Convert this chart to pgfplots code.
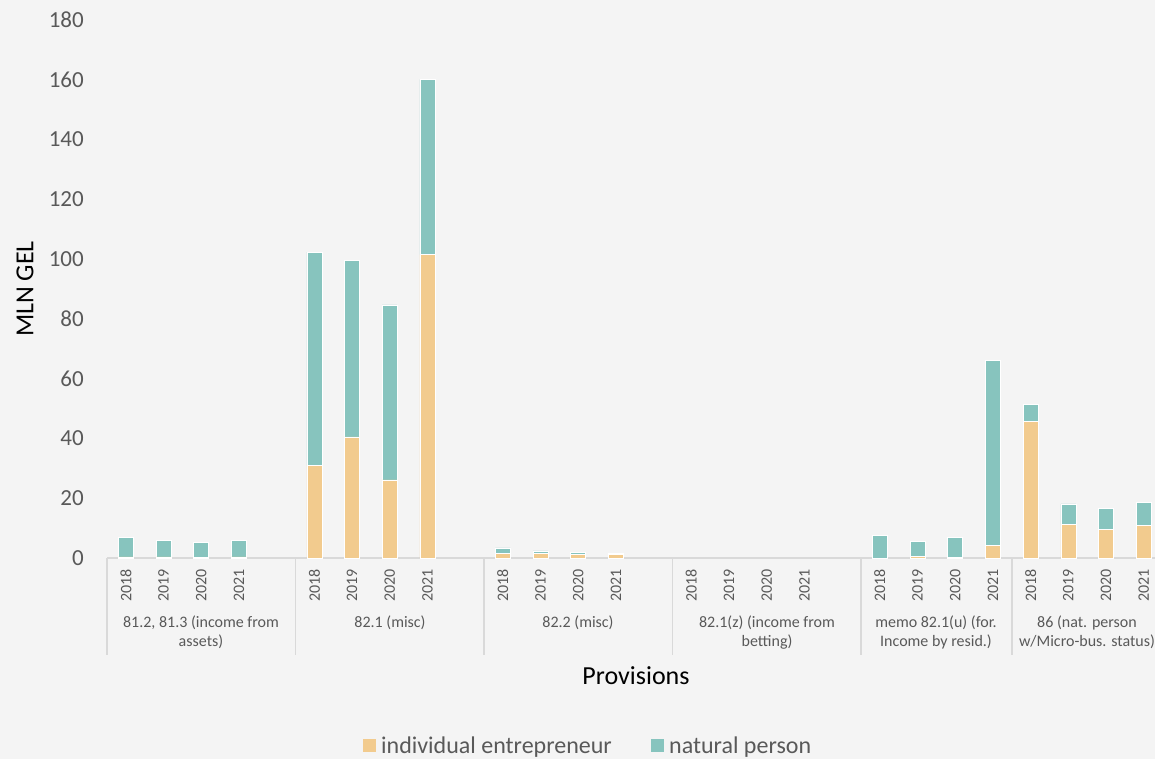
\documentclass[border=0pt]{standalone}
\usepackage{pgfplots}
\pgfplotsset{compat=1.18}
\usepackage{fontspec}
\setmainfont{Carlito}
\definecolor{ie}{HTML}{F2CB8E}
\definecolor{np}{HTML}{87C4BE}
\definecolor{bg}{HTML}{F4F4F4}
\definecolor{txt}{HTML}{595959}
\definecolor{axc}{HTML}{D9D9D9}

\pgfplotstableread{
x ie np
0 0.4 6.6
1 0.4 5.6
2 0.1 5.1
3 0.4 5.6
5 31.1 71.2
6 40.5 59.0
7 26.1 58.6
8 101.5 58.6
10 1.5 1.9
11 1.5 0.9
12 1.1 0.9
13 1.1 0.5
20 0.0 7.6
21 0.5 5.1
22 0.3 6.5
23 4.1 62.0
24 45.6 5.8
25 11.3 6.8
26 9.6 7.0
27 10.9 7.7
}\datatable

\begin{document}
\begin{tikzpicture}[x=1pt,y=1pt]
\fill[bg] (0,0) rectangle (1155,759);
\path[use as bounding box] (0,0) rectangle (1155,759);
\begin{axis}[
  at={(107pt,201pt)}, anchor=south west,
  scale only axis, width=1048pt, height=538pt,
  xmin=-0.5, xmax=27.3, ymin=0, ymax=180,
  ybar stacked, bar width=15pt,
  clip=false,
  axis x line=bottom, axis y line=left,
  x axis line style={draw=axc, line width=1.5pt, -},
  y axis line style={draw=none},
  major tick length=0pt,
  ytick={0,20,...,180},
  xtick={0,1,2,3,5,6,7,8,10,11,12,13,15,16,17,18,20,21,22,23,24,25,26,27},
  xticklabels={2018,2019,2020,2021,2018,2019,2020,2021,2018,2019,2020,2021,2018,2019,2020,2021,2018,2019,2020,2021,2018,2019,2020,2021},
  xticklabel style={rotate=90, anchor=east, inner sep=0pt, yshift=0pt, xshift=-11pt, font=\fontsize{16}{19}\selectfont, text=txt},
  yticklabel style={anchor=east, inner sep=0pt, xshift=-23pt, font=\fontsize{23}{27}\selectfont, text=txt},
  /pgf/number format/assume math mode=true,
  ylabel={MLN GEL},
  ylabel style={at={(rel axis cs:0,0.5)}, anchor=center, yshift=82pt, font=\fontsize{26}{30}\selectfont, text=black},
  legend columns=2,
  legend style={at={(0.459,-0.3494)}, anchor=center, draw=none, fill=none, font=\fontsize{24}{28}\selectfont, text=txt,
    /tikz/every even column/.append style={column sep=37pt}},
  legend image code/.code={\fill[#1,draw=none] (0pt,-6.5pt) rectangle (13pt,6.5pt); \path (16pt,0pt);},
]
\addplot[fill=ie, draw=white, line width=0.5pt] table[x=x, y=ie] {\datatable};
\addlegendentry{individual entrepreneur}
\addplot[fill=np, draw=white, line width=0.5pt] table[x=x, y=np] {\datatable};
\addlegendentry{natural person}

\draw[axc, line width=1.5pt] (axis cs:-0.5,0) -- ++(0pt,-97pt);
\draw[axc, line width=1.5pt] (axis cs:4.5,0) -- ++(0pt,-97pt);
\draw[axc, line width=1.5pt] (axis cs:9.5,0) -- ++(0pt,-97pt);
\draw[axc, line width=1.5pt] (axis cs:14.5,0) -- ++(0pt,-97pt);
\draw[axc, line width=1.5pt] (axis cs:19.5,0) -- ++(0pt,-97pt);
\draw[axc, line width=1.5pt] (axis cs:23.5,0) -- ++(0pt,-97pt);
\end{axis}
\begin{scope}[every node/.style={font=\fontsize{16}{19}\selectfont, text=txt, inner sep=0pt, anchor=base}]
\node at (201,131) {81.2, 81.3 (income from};
\node at (201,112) {assets)};
\node at (390,131) {82.1 (misc)};
\node at (578,131) {82.2 (misc)};
\node at (767,131) {82.1(z) (income from};
\node at (767,112) {betting)};
\node at (936,131) {memo 82.1(u) (for.};
\node at (936,112) {Income by resid.)};
\node at (1087,131) {86 (nat. person};
\node at (1087,112) {w/Micro-bus. status)};
\end{scope}
\node[font=\fontsize{26}{30}\selectfont, text=black, anchor=center] at (636,83) {Provisions};
\end{tikzpicture}
\end{document}
